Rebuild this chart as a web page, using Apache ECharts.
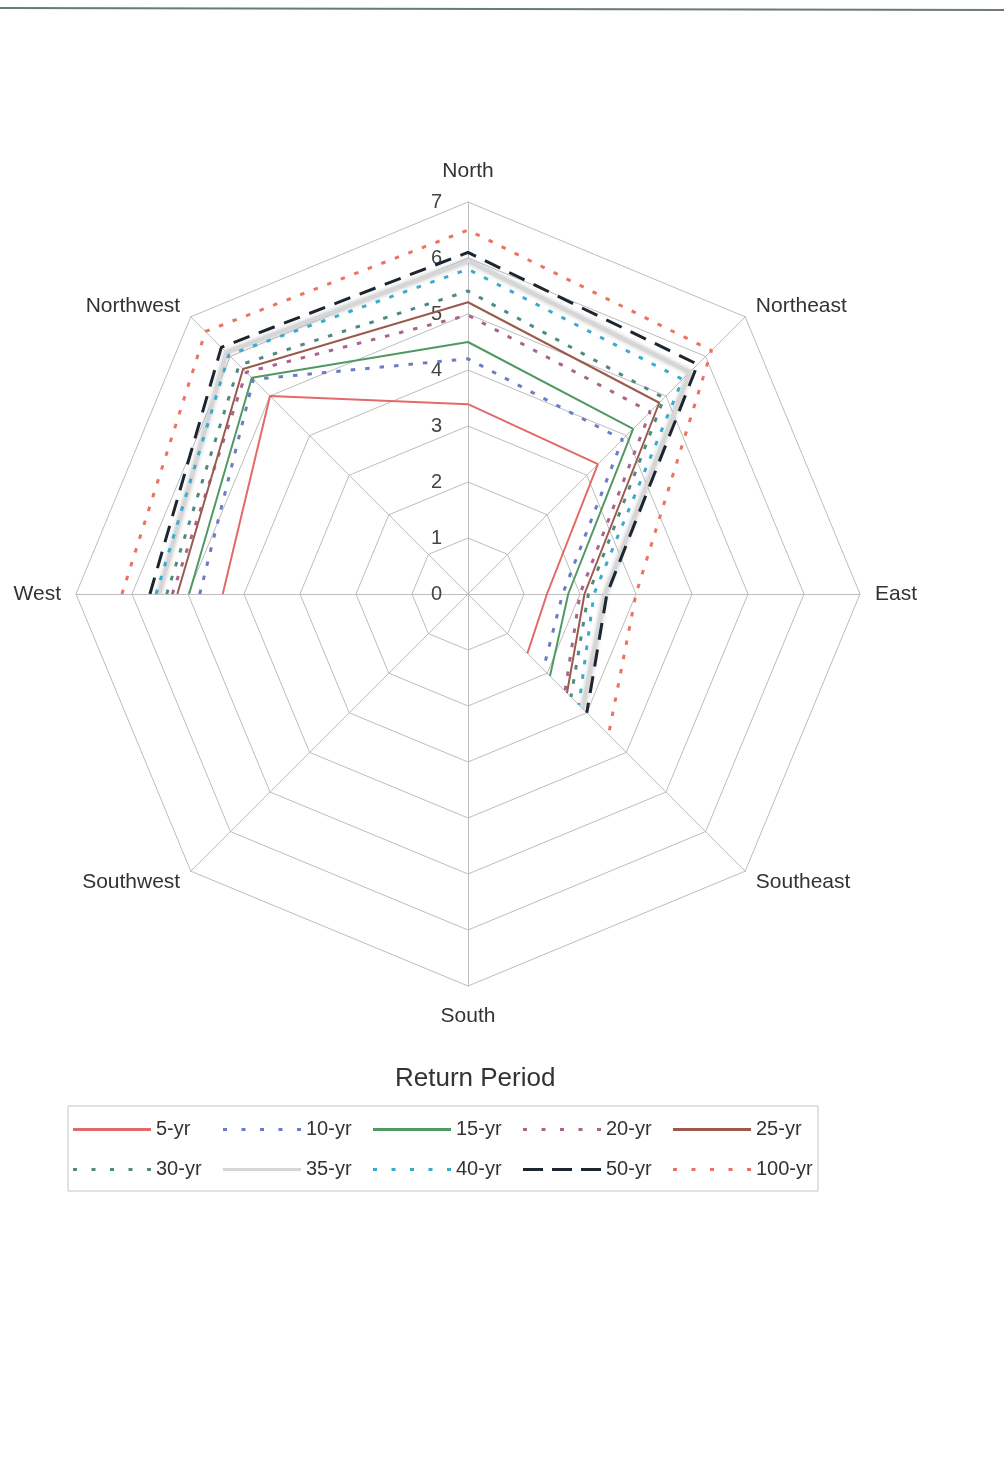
<!DOCTYPE html>
<html>
<head>
<meta charset="utf-8">
<script src="https://cdn.jsdelivr.net/npm/echarts@6/dist/echarts.min.js"></script>
<style>
  html, body { margin: 0; padding: 0; background: #ffffff; }
  #chart { width: 1004px; height: 1473px; }
</style>
</head>
<body>
<div id="chart"></div>
<script>
// Compass directions, listed clockwise from North
const directions = ['North', 'Northeast', 'East', 'Southeast', 'South', 'Southwest', 'West', 'Northwest'];
// Radial scale tick labels
const radialTicks = [0, 1, 2, 3, 4, 5, 6, 7];
// Return periods (legend order)
const periods = ['5-yr', '10-yr', '15-yr', '20-yr', '25-yr', '30-yr', '35-yr', '40-yr', '50-yr', '100-yr'];

// Values per direction: N, NE, E, SE, S, SW, W, NW (no data for S and SW)
const yr5   = [3.39, 3.28, 1.41, 1.50, null, null, 4.38, 5.00];
const yr10  = [4.20, 3.90, 1.69, 1.90, null, null, 4.79, 5.42];
const yr15  = [4.50, 4.17, 1.79, 2.07, null, null, 4.98, 5.46];
const yr20  = [4.98, 4.60, 2.00, 2.45, null, null, 5.28, 5.60];
const yr25  = [5.21, 4.83, 2.08, 2.50, null, null, 5.19, 5.68];
const yr30  = [5.41, 4.95, 2.15, 2.60, null, null, 5.38, 5.78];
const yr35  = [5.95, 5.60, 2.45, 2.90, null, null, 5.52, 6.10];
const yr40  = [5.80, 5.42, 2.25, 2.80, null, null, 5.57, 6.04];
const yr50  = [6.10, 5.80, 2.48, 3.00, null, null, 5.68, 6.23];
const yr100 = [6.50, 6.15, 3.00, 3.55, null, null, 6.18, 6.63];

const seriesValues = [yr5, yr10, yr15, yr20, yr25, yr30, yr35, yr40, yr50, yr100];

// Line appearance per return period
const lineLooks = [
  { color: '#e26a6a', kind: 'solid',  width: 2 },
  { color: '#6b7cc6', kind: 'dot',    width: 3 },
  { color: '#4f9a63', kind: 'solid',  width: 2 },
  { color: '#a8648f', kind: 'dot',    width: 3 },
  { color: '#9c5a4c', kind: 'solid',  width: 2 },
  { color: '#4f8a82', kind: 'dot',    width: 3 },
  { color: '#d6d6d6', kind: 'soft',   width: 4 },
  { color: '#38acd0', kind: 'dot',    width: 3 },
  { color: '#1c2631', kind: 'dash',   width: 3 },
  { color: '#ea7461', kind: 'dot',    width: 3 }
];

// Radar grid lays indicators out counter-clockwise from the top
const ccwOrder = [0, 7, 6, 5, 4, 3, 2, 1];
// Polar lines run clockwise starting at West so the open path W→NW→N→NE→E→SE is continuous
const pathOrder = [6, 7, 0, 1, 2, 3, 4, 5];

const CENTER = [468, 594];
const RADIUS = 392;
const FONT = 'Liberation Sans, Arial, sans-serif';

function dashFor(kind) {
  if (kind === 'dot') return [4.5, 10];
  if (kind === 'dash') return [17, 10];
  return 'solid';
}

// Legend icon strips (78 x 3) mimicking each line pattern
function iconFor(kind) {
  if (kind === 'dot') {
    let p = 'path://';
    [0, 18.5, 37, 55.5, 74].forEach(x => { p += 'M' + x + ',0h4v3h-4z'; });
    return p;
  }
  if (kind === 'dash') {
    return 'path://M0,0h20v3h-20zM29,0h20v3h-20zM58,0h20v3h-20z';
  }
  return 'path://M0,0h78v3h-78z';
}

const chart = echarts.init(document.getElementById('chart'), null, { renderer: 'canvas' });

const tickMin = radialTicks[0];
const tickMax = radialTicks[radialTicks.length - 1];

const option = {
  backgroundColor: '#ffffff',
  animation: false,
  title: {
    text: 'Return Period',
    left: 395,
    top: 1066,
    padding: 0,
    textStyle: { fontFamily: FONT, fontSize: 26, fontWeight: 'normal', color: '#333333' }
  },
  graphic: [
    {
      type: 'line',
      shape: { x1: 0, y1: 8, x2: 1004, y2: 10 },
      style: { stroke: '#6a7c6c', lineWidth: 2 }
    }
  ],
  legend: {
    left: 68,
    top: 1106,
    width: 760,
    orient: 'horizontal',
    padding: [6, 0, 4, 5],
    borderColor: '#c4c4c4',
    borderWidth: 1,
    itemWidth: 78,
    itemHeight: 3,
    itemGap: 5,
    selectedMode: false,
    itemStyle: { borderWidth: 0 },
    textStyle: { fontFamily: FONT, fontSize: 20, color: '#333333', width: 62, lineHeight: 35 },
    data: periods.map((p, i) => ({ name: p, icon: iconFor(lineLooks[i].kind) }))
  },
  // Octagonal grid, direction names and the radial tick labels
  radar: {
    center: CENTER,
    radius: RADIUS,
    startAngle: 90,
    shape: 'polygon',
    splitNumber: radialTicks.length - 1,
    nameGap: 15,
    indicator: ccwOrder.map(i => {
      const ind = { name: directions[i], min: tickMin, max: tickMax };
      if (i !== 0) ind.axisLabel = { show: false };
      return ind;
    }),
    axisName: { color: '#333333', fontSize: 21, fontFamily: FONT, padding: [5, 0, 5, 0] },
    axisLine: { lineStyle: { color: '#bdbdbd', width: 1 } },
    splitLine: { lineStyle: { color: '#bdbdbd', width: 1 } },
    splitArea: { show: false },
    axisTick: { show: false },
    axisLabel: {
      show: true,
      margin: 26,
      color: '#444444',
      fontSize: 20,
      fontFamily: FONT,
      showMinLabel: true,
      showMaxLabel: true,
      formatter: v => String(radialTicks[Math.round(v)])
    }
  },
  // Hidden polar system sharing the radar's centre and radius, used to draw the open paths
  polar: { center: CENTER, radius: RADIUS },
  angleAxis: {
    type: 'category',
    data: pathOrder.map(i => directions[i]),
    startAngle: 180,
    clockwise: true,
    boundaryGap: false,
    show: false
  },
  radiusAxis: { type: 'value', min: tickMin, max: tickMax, show: false },
  series: periods.map((p, i) => {
    const look = lineLooks[i];
    const ls = { color: look.color, width: look.width, type: dashFor(look.kind), cap: 'butt' };
    if (look.kind === 'soft') {
      ls.shadowBlur = 4;
      ls.shadowColor = 'rgba(150,150,150,0.6)';
    }
    const pts = [];
    pathOrder.forEach(k => {
      const v = seriesValues[i][k];
      if (v !== null) pts.push([v, directions[k]]);
    });
    return {
      type: 'line',
      coordinateSystem: 'polar',
      name: p,
      symbol: 'none',
      smooth: false,
      z: 5 + i,
      itemStyle: { color: look.color },
      lineStyle: ls,
      emphasis: { disabled: true },
      data: pts
    };
  })
};

chart.setOption(option);
</script>
</body>
</html>
